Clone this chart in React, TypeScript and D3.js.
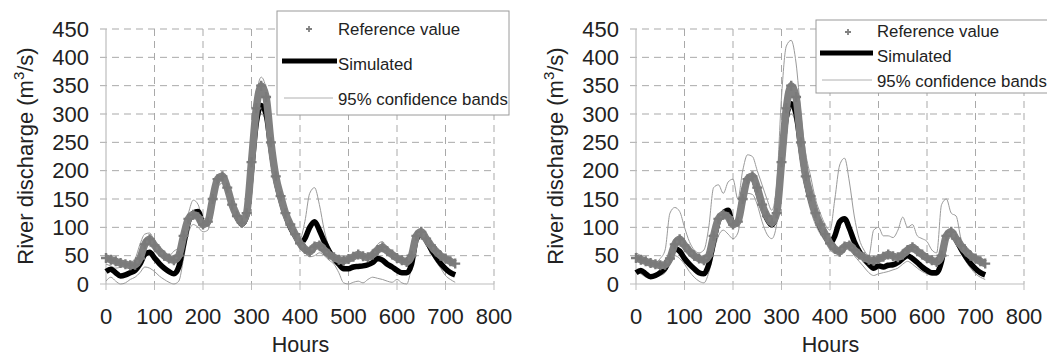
import { useEffect, useRef } from 'react';
import * as d3 from 'd3';

// hourly time axis (every 10 h)
const hours = [
  0, 10, 20, 30, 40, 50, 60, 70, 80, 90, 100, 110, 120, 130, 140, 150, 160, 170, 180, 190,
  200, 210, 220, 230, 240, 250, 260, 270, 280, 290, 300, 310, 320, 330, 340, 350, 360, 370, 380, 390,
  400, 410, 420, 430, 440, 450, 460, 470, 480, 490, 500, 510, 520, 530, 540, 550, 560, 570, 580, 590,
  600, 610, 620, 630, 640, 650, 660, 670, 680, 690, 700, 710, 720,
];

const reference = [
  46, 43, 40, 37, 35, 33, 34, 45, 70, 79, 68, 58, 50, 45, 42, 50, 85, 115, 122, 118,
  105, 110, 150, 185, 190, 170, 140, 120, 108, 125, 215, 310, 350, 330, 250, 190, 155, 125, 105, 88,
  72, 62, 57, 66, 68, 60, 52, 47, 43, 41, 44, 48, 52, 49, 47, 52, 60, 65, 58, 52,
  46, 42, 39, 50, 85, 92, 80, 68, 58, 50, 45, 40, 36,
];

// left panel
const simulatedA = [
  22, 26, 20, 14, 16, 20, 24, 35, 52, 56, 46, 36, 28, 22, 18, 30, 70, 110, 125, 128,
  108, 108, 150, 183, 188, 168, 140, 118, 106, 120, 200, 285, 315, 300, 240, 185, 150, 122, 100, 85,
  72, 80, 100, 110, 95, 75, 58, 45, 35, 27, 27, 30, 31, 32, 34, 38, 45, 42, 35, 30,
  24, 20, 20, 35, 80, 88, 78, 62, 48, 36, 27, 20, 16,
];
const upperA = [
  35, 32, 28, 30, 35, 38, 45, 70, 88, 90, 75, 62, 55, 50, 58, 65, 90, 125, 148, 140,
  115, 118, 160, 190, 195, 175, 150, 135, 118, 140, 230, 330, 365, 345, 265, 200, 160, 130, 108, 92,
  80, 110, 160, 170, 140, 95, 65, 52, 45, 42, 48, 50, 55, 50, 50, 58, 70, 75, 60, 55,
  48, 42, 40, 55, 88, 90, 80, 52, 50, 42, 32, 22, 15,
];
const lowerA = [
  5, 12, 5, 0, 2, 8, 12, 20, 30, 28, 22, 14, 8, 3, 0, 5, 45, 90, 105, 100,
  92, 95, 135, 170, 178, 160, 132, 110, 100, 110, 180, 265, 300, 285, 225, 175, 140, 115, 95, 80,
  62, 55, 48, 50, 55, 50, 42, 35, 20, 2, 0, 3, 5, 2, 8, 12, 10, 8, 5, 3,
  8, 2, 0, 30, 72, 80, 68, 55, 40, 28, 15, 8, 3,
];

// right panel
const simulatedB = [
  20, 24, 18, 13, 15, 20, 28, 45, 62, 58, 45, 35, 27, 20, 18, 35, 75, 112, 125, 130,
  105, 110, 155, 185, 188, 165, 138, 115, 104, 125, 210, 295, 318, 300, 240, 185, 150, 122, 100, 85,
  72, 85, 110, 115, 98, 75, 58, 45, 35, 28, 32, 30, 33, 34, 38, 45, 50, 45, 38, 30,
  24, 20, 20, 40, 85, 90, 78, 62, 48, 36, 27, 20, 16,
];
const upperB = [
  55, 50, 45, 40, 38, 45, 60, 125, 135, 128, 100, 75, 60, 55, 60, 100, 170, 175, 160, 180,
  185, 150, 200, 228, 225, 200, 175, 150, 130, 175, 330, 420, 430, 390, 300, 230, 190, 150, 125, 105,
  95, 150, 210, 222, 180, 120, 80, 60, 50, 95, 100, 85, 85, 82, 95, 118, 100, 105, 85, 80,
  75, 60, 55, 140, 150, 125, 120, 80, 60, 50, 42, 35, 30,
];
const lowerB = [
  20, 18, 12, 10, 12, 15, 20, 35, 50, 45, 35, 22, 12, 5, 2, 20, 55, 85, 95, 88,
  80, 90, 140, 160, 158, 140, 110, 88, 80, 105, 190, 275, 300, 280, 220, 165, 130, 105, 88, 75,
  60, 55, 60, 70, 62, 50, 40, 30, 20, 15, 18, 20, 22, 25, 28, 35, 40, 35, 28, 22,
  18, 15, 15, 35, 75, 82, 70, 55, 40, 28, 18, 12, 8,
];

const xTicks = [0, 100, 200, 300, 400, 500, 600, 700, 800];
const yTicks = [0, 50, 100, 150, 200, 250, 300, 350, 400, 450];

const legendLabels = ['Reference value', 'Simulated', '95% confidence bands'];

const panels = [
  {
    left: 106,
    sim: simulatedA,
    upper: upperA,
    lower: lowerA,
    legend: { x: 277, y: 11, w: 232, h: 104, mx: 309, my: 29, tx: 338, rows: [35, 70, 105], simY: 61, simX: [282, 337], bandY: 98, bandX: [284, 333] },
  },
  {
    left: 636,
    sim: simulatedB,
    upper: upperB,
    lower: lowerB,
    legend: { x: 816, y: 20, w: 245, h: 73, mx: 848, my: 32, tx: 877, rows: [37, 62, 87], simY: 53, simX: [820, 873], bandY: 80, bandX: [822, 872] },
  },
];

const FONT = "'Liberation Sans', Arial, Helvetica, sans-serif";

export default function App() {
  const svgRef = useRef<SVGSVGElement>(null);

  useEffect(() => {
    if (!svgRef.current) return;
    const svg = d3.select(svgRef.current);
    svg.selectAll('*').remove();

    const top = 29;
    const bottom = 284;
    const plotW = 388;

    panels.forEach((p) => {
      const x = d3.scaleLinear().domain([0, 800]).range([p.left, p.left + plotW]);
      const y = d3.scaleLinear().domain([0, 450]).range([bottom, top]);
      const g = svg.append('g');

      // grid
      g.selectAll('line.hgrid')
        .data(yTicks.filter((d) => d > 0))
        .enter()
        .append('line')
        .attr('x1', p.left - 6)
        .attr('x2', p.left + plotW)
        .attr('y1', (d) => y(d))
        .attr('y2', (d) => y(d))
        .attr('stroke', '#a9a9a9')
        .attr('stroke-width', 1)
        .attr('stroke-dasharray', '7,5');

      g.selectAll('line.vgrid')
        .data(xTicks.filter((d) => d > 0))
        .enter()
        .append('line')
        .attr('x1', (d) => x(d))
        .attr('x2', (d) => x(d))
        .attr('y1', top)
        .attr('y2', bottom)
        .attr('stroke', '#a9a9a9')
        .attr('stroke-width', 1)
        .attr('stroke-dasharray', '7,5');

      // axes lines
      g.append('line')
        .attr('x1', p.left).attr('x2', p.left)
        .attr('y1', top).attr('y2', bottom)
        .attr('stroke', '#bdbdbd').attr('stroke-width', 1.2);
      g.append('line')
        .attr('x1', p.left - 6).attr('x2', p.left + plotW)
        .attr('y1', bottom).attr('y2', bottom)
        .attr('stroke', '#bdbdbd').attr('stroke-width', 1.2);
      g.selectAll('line.xt')
        .data(xTicks)
        .enter()
        .append('line')
        .attr('x1', (d) => x(d)).attr('x2', (d) => x(d))
        .attr('y1', bottom).attr('y2', bottom + 6)
        .attr('stroke', '#bdbdbd');

      // tick labels
      g.selectAll('text.yl')
        .data(yTicks)
        .enter()
        .append('text')
        .attr('x', p.left - 17)
        .attr('y', (d) => y(d) + 7.5)
        .attr('text-anchor', 'end')
        .attr('font-family', FONT)
        .attr('font-size', 22)
        .attr('fill', '#222')
        .text((d) => d);

      g.selectAll('text.xl')
        .data(xTicks)
        .enter()
        .append('text')
        .attr('x', (d) => x(d))
        .attr('y', 324)
        .attr('text-anchor', 'middle')
        .attr('font-family', FONT)
        .attr('font-size', 22)
        .attr('fill', '#222')
        .text((d) => d);

      g.append('text')
        .attr('x', x(400) + 0.5)
        .attr('y', 352)
        .attr('text-anchor', 'middle')
        .attr('font-family', FONT)
        .attr('font-size', 21.5)
        .attr('fill', '#222')
        .text('Hours');

      const yl = g
        .append('text')
        .attr('transform', `translate(${p.left - 73},156) rotate(-90)`)
        .attr('text-anchor', 'middle')
        .attr('font-family', FONT)
        .attr('font-size', 22)
        .attr('fill', '#222');
      yl.append('tspan').text('River discharge (m');
      yl.append('tspan').attr('dy', -9).attr('font-size', 15).text('3');
      yl.append('tspan').attr('dy', 9).text('/s)');

      const line = (vals: number[]) =>
        d3
          .line<number>()
          .x((_, i) => x(hours[i]))
          .y((d) => y(d))
          .curve(d3.curveMonotoneX)(vals);

      // confidence bands
      [p.upper, p.lower].forEach((band) => {
        g.append('path')
          .attr('d', line(band))
          .attr('fill', 'none')
          .attr('stroke', '#9a9a9a')
          .attr('stroke-width', 1);
      });

      // simulated
      g.append('path')
        .attr('d', line(p.sim))
        .attr('fill', 'none')
        .attr('stroke', '#000')
        .attr('stroke-width', 5.5)
        .attr('stroke-linejoin', 'round');

      // reference values
      g.append('path')
        .attr('d', line(reference))
        .attr('fill', 'none')
        .attr('stroke', '#808080')
        .attr('stroke-width', 7.5)
        .attr('stroke-linejoin', 'round');
      g.selectAll('path.plus')
        .data(reference)
        .enter()
        .append('path')
        .attr('transform', (d, i) => `translate(${x(hours[i])},${y(d)})`)
        .attr('d', 'M-5,0H5M0,-5V5')
        .attr('stroke', '#7a7a7a')
        .attr('stroke-width', 2.4);

      // legend
      const L = p.legend;
      g.append('rect')
        .attr('x', L.x).attr('y', L.y)
        .attr('width', L.w).attr('height', L.h)
        .attr('fill', '#fff')
        .attr('stroke', '#9a9a9a')
        .attr('stroke-width', 1);
      g.append('path')
        .attr('transform', `translate(${L.mx},${L.my})`)
        .attr('d', 'M-3,0H3M0,-3V3')
        .attr('stroke', '#808080')
        .attr('stroke-width', 1.8);
      g.append('line')
        .attr('x1', L.simX[0]).attr('x2', L.simX[1])
        .attr('y1', L.simY).attr('y2', L.simY)
        .attr('stroke', '#000').attr('stroke-width', 5);
      g.append('line')
        .attr('x1', L.bandX[0]).attr('x2', L.bandX[1])
        .attr('y1', L.bandY).attr('y2', L.bandY)
        .attr('stroke', '#b0b0b0').attr('stroke-width', 1);
      g.selectAll('text.leg')
        .data(legendLabels)
        .enter()
        .append('text')
        .attr('x', L.tx)
        .attr('y', (_, i) => L.rows[i])
        .attr('font-family', FONT)
        .attr('font-size', 16.8)
        .attr('fill', '#222')
        .text((d) => d);
    });
  }, []);

  return (
    <svg
      ref={svgRef}
      width={1047}
      height={358}
      style={{ position: 'absolute', left: 0, top: 0, background: '#fff' }}
    />
  );
}
